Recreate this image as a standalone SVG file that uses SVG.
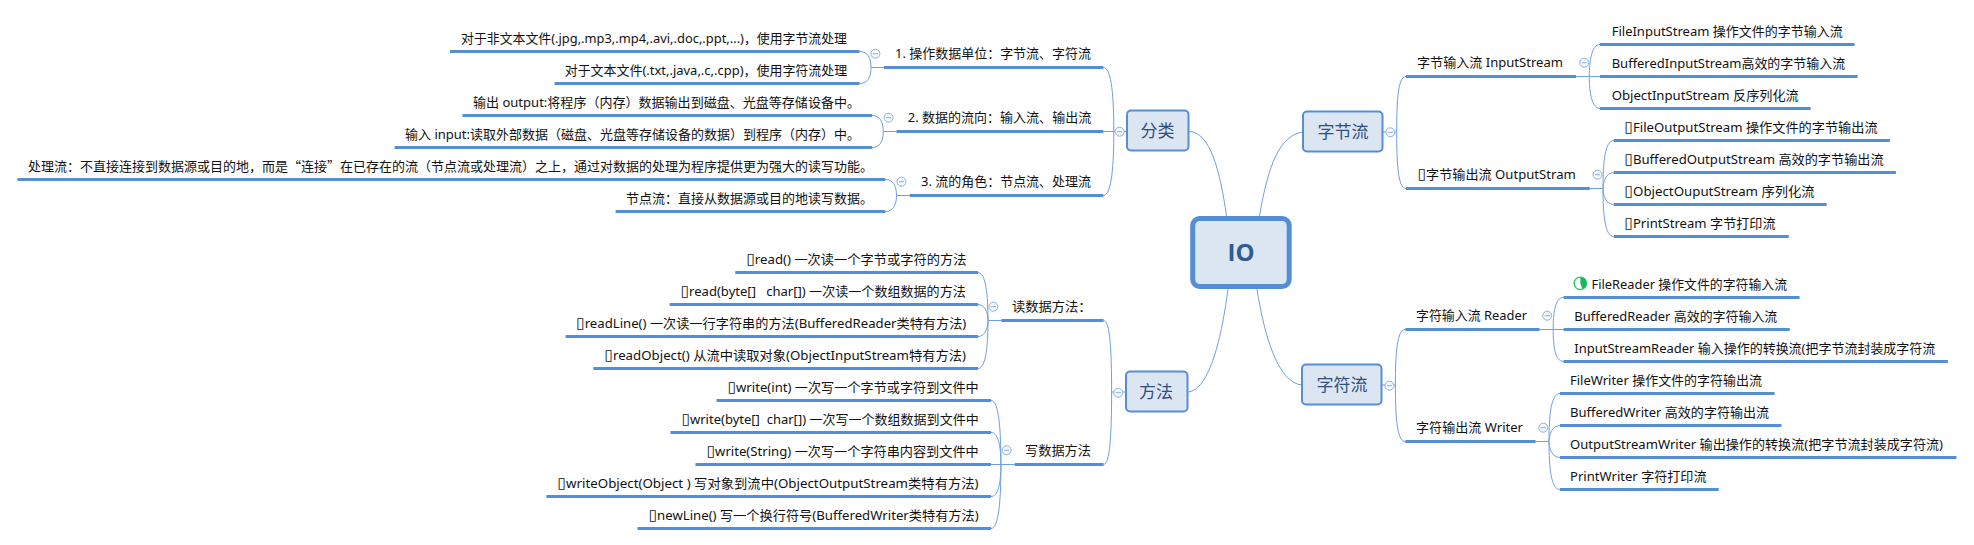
<svg xmlns="http://www.w3.org/2000/svg" width="1974" height="545" viewBox="0 0 1974 545">
<style>
text{font-family:"Noto Sans","Noto Sans CJK SC","DejaVu Sans",sans-serif;font-size:13px;fill:#111}
.b{font-size:15px;font-family:"DejaVu Sans",sans-serif}
.q{font-family:"Noto Sans CJK SC",sans-serif}
.u{stroke:#558ed5;stroke-width:3;fill:none}
.c{stroke:#6f9fdc;stroke-width:1;fill:none}
.box{fill:#dce6f2;stroke:#558ed5;stroke-width:2}
.nt{font-family:"Noto Sans CJK SC","Noto Sans",sans-serif;font-size:17px;fill:#2f4f7f;text-anchor:middle}
.i circle{fill:#f4f7fc;stroke:#8fb0de;stroke-width:1}
.i path{stroke:#8fb0de;stroke-width:1;fill:none}
</style>
<defs>
<g id="tg" class="i"><circle r="4.5"/><path d="M-2.5 0H2.5"/></g>
</defs>
<rect width="1974" height="545" fill="#fff"/>
<g id="connectors">
<path class="c" d="M1226.5 216C1220 170 1210 132 1189 131.5"/>
<path class="c" d="M1259.5 216C1268 165 1280 135 1303 132"/>
<path class="c" d="M1228 289C1222 335 1210 390 1188 392"/>
<path class="c" d="M1257 289C1264 335 1278 383 1302 385"/>
<path class="c" d="M1126 131.5H1113.8M1113.8 131.5C1113.8 100 1112 67.5 1103.4 67.5M1113.8 131.5H1103.4M1113.8 131.5C1113.8 163 1112 195.5 1103.4 195.5"/>
<path class="c" d="M883.7 67.5H871M871 67.5C871 58 868 51.5 859.6 51.5M871 67.5C871 77 868 83.5 859.6 83.5"/>
<path class="c" d="M896.5 131.5H883.3M883.3 131.5C883.3 122 880 115.5 872 115.5M883.3 131.5C883.3 141 880 147.5 872 147.5"/>
<path class="c" d="M909.8 195.5H896.5M896.5 195.5C896.5 186 893 179.5 885.3 179.5M896.5 195.5C896.5 205 893 211.5 885.3 211.5"/>
<path class="c" d="M1125 392H1111.6M1111.6 392C1111.6 350 1110 320.5 1103.6 320.5M1111.6 392C1111.6 434 1110 464.5 1103.6 464.5"/>
<path class="c" d="M1001.3 320.5H988M988 320.5C988 296 986 272.5 978 272.5M988 320.5C988 313 985 304.5 978 304.5M988 320.5C988 328 985 336.5 978 336.5M988 320.5C988 345 986 368.5 978 368.5"/>
<path class="c" d="M1014.7 464.5H991M1000.9 464.5C1000.9 430 999 400.5 991 400.5M1000.9 464.5C1000.9 445 998 432.5 991 432.5M1000.9 464.5C1000.9 484 998 496.5 991 496.5M1000.9 464.5C1000.9 499 999 528.5 991 528.5"/>
<path class="c" d="M1383 132H1396.7M1396.7 132C1396.7 100 1398 76.5 1406 76.5M1396.7 132C1396.7 164 1398 188.5 1406 188.5"/>
<path class="c" d="M1576 76.5H1600M1589.3 76.5C1589.3 60 1592 44.5 1600 44.5M1589.3 76.5C1589.3 93 1592 108.5 1600 108.5"/>
<path class="c" d="M1589.8 188.5H1603M1603 188.5C1603 162 1605 140.5 1613.8 140.5M1603 188.5C1603 182 1606 172.5 1613.8 172.5M1603 188.5C1603 195 1606 204.5 1613.8 204.5M1603 188.5C1603 215 1605 236.5 1613.8 236.5"/>
<path class="c" d="M1382 385H1395.4M1395.4 385C1395.4 353 1397 329.5 1405.3 329.5M1395.4 385C1395.4 417 1397 441.5 1405.3 441.5"/>
<path class="c" d="M1539.5 329.5H1563.5M1553.2 329.5C1553.2 313 1555 297.5 1563.5 297.5M1553.2 329.5C1553.2 346 1555 361.5 1563.5 361.5"/>
<path class="c" d="M1535.6 441.5H1549M1549 441.5C1549 415 1551 393.5 1560 393.5M1549 441.5C1549 435 1552 425.5 1560 425.5M1549 441.5C1549 448 1552 457.5 1560 457.5M1549 441.5C1549 468 1551 489.5 1560 489.5"/>
</g>
<g id="node-io"><rect x="1192.7" y="218.5" width="96.5" height="68" rx="7" fill="#dce6f2" stroke="#558ed5" stroke-width="5"/><text x="1241" y="261" text-anchor="middle" style="font-family:'Open Sans',sans-serif;font-size:24px;font-weight:700;fill:#2f5c94">IO</text></g>
<g id="node-fenlei"><rect class="box" x="1127" y="110.5" width="61.5" height="40" rx="4"/><text class="nt" x="1157.5" y="136.5">分类</text><use href="#tg" x="1119.6" y="131.7"/></g>
<g id="node-fangfa"><rect class="box" x="1126" y="371.5" width="61.5" height="40" rx="4"/><text class="nt" x="1156" y="397.5">方法</text><use href="#tg" x="1118.3" y="392.7"/></g>
<g id="node-zijie"><rect class="box" x="1303" y="111.5" width="79.5" height="40" rx="4"/><text class="nt" x="1343" y="137.5">字节流</text><use href="#tg" x="1390.3" y="132.3"/></g>
<g id="node-zifu"><rect class="box" x="1302" y="364.5" width="79.5" height="40" rx="4"/><text class="nt" x="1342" y="390.5">字符流</text><use href="#tg" x="1389.4" y="385.7"/></g>

<g id="n-op"><path class="u" d="M883.7 67.5H1103.4"/><text x="895" y="58" textLength="196" lengthAdjust="spacingAndGlyphs">1. 操作数据单位&#xFF1A;字节流、字符流</text><use href="#tg" x="875.4" y="53.7"/></g>
<g id="n-nontext"><path class="u" d="M450 51.5H859.6"/><text x="461" y="42.5" textLength="386" lengthAdjust="spacingAndGlyphs">对于非文本文件(.jpg,.mp3,.mp4,.avi,.doc,.ppt,...)&#xFF0C;使用字节流处理</text></g>
<g id="n-text"><path class="u" d="M554.5 83.5H859.6"/><text x="564.7" y="74.5" textLength="282.5" lengthAdjust="spacingAndGlyphs">对于文本文件(.txt,.java,.c,.cpp)&#xFF0C;使用字符流处理</text></g>
<g id="n-dir"><path class="u" d="M896.5 131.5H1103.4"/><text x="907.7" y="122" textLength="183.5" lengthAdjust="spacingAndGlyphs">2. 数据的流向&#xFF1A;输入流、输出流</text><use href="#tg" x="888.6" y="117.7"/></g>
<g id="n-output"><path class="u" d="M462.5 115.5H872"/><text x="473" y="106.5" textLength="387" lengthAdjust="spacingAndGlyphs">输出 output:将程序&#xFF08;内存&#xFF09;数据输出到磁盘、光盘等存储设备中。</text></g>
<g id="n-input"><path class="u" d="M394.6 147.5H872"/><text x="405" y="138.5" textLength="455" lengthAdjust="spacingAndGlyphs">输入 input:读取外部数据&#xFF08;磁盘、光盘等存储设备的数据&#xFF09;到程序&#xFF08;内存&#xFF09;中。</text></g>
<g id="n-role"><path class="u" d="M909.8 195.5H1103.4"/><text x="921" y="186" textLength="170" lengthAdjust="spacingAndGlyphs">3. 流的角色&#xFF1A;节点流、处理流</text><use href="#tg" x="901.5" y="181.7"/></g>
<g id="n-proc"><path class="u" d="M17.4 179.5H885.3"/><text x="28" y="170.5" textLength="845" lengthAdjust="spacingAndGlyphs">处理流&#xFF1A;不直接连接到数据源或目的地&#xFF0C;而是<tspan class="q">&#x201C;</tspan>连接<tspan class="q">&#x201D;</tspan>在已存在的流&#xFF08;节点流或处理流&#xFF09;之上&#xFF0C;通过对数据的处理为程序提供更为强大的读写功能。</text></g>
<g id="n-node"><path class="u" d="M615.6 211.5H885.3"/><text x="626" y="202.5" textLength="247" lengthAdjust="spacingAndGlyphs">节点流&#xFF1A;直接从数据源或目的地读写数据。</text></g>

<g id="n-readm"><path class="u" d="M1001.3 320.5H1103.6"/><text x="1012" y="311" textLength="79.6" lengthAdjust="spacingAndGlyphs">读数据方法&#xFF1A;</text><use href="#tg" x="993.3" y="306.7"/></g>
<g id="n-r1"><path class="u" d="M735.3 272.5H978"/><text x="746.4" y="263.5" textLength="220" lengthAdjust="spacingAndGlyphs"><tspan class="b">▯</tspan>read() 一次读一个字节或字符的方法</text></g>
<g id="n-r2"><path class="u" d="M669.6 304.5H978"/><text x="680.8" y="295.5" textLength="285" lengthAdjust="spacingAndGlyphs" xml:space="preserve"><tspan class="b">▯</tspan>read(byte[]   char[]) 一次读一个数组数据的方法</text></g>
<g id="n-r3"><path class="u" d="M565.6 336.5H978"/><text x="576.3" y="327.5" textLength="390" lengthAdjust="spacingAndGlyphs"><tspan class="b">▯</tspan>readLine() 一次读一行字符串的方法(BufferedReader类特有方法)</text></g>
<g id="n-r4"><path class="u" d="M593.3 368.5H978"/><text x="604.5" y="359.5" textLength="361.5" lengthAdjust="spacingAndGlyphs"><tspan class="b">▯</tspan>readObject() 从流中读取对象(ObjectInputStream特有方法)</text></g>
<g id="n-writem"><path class="u" d="M1014.7 464.5H1103.6"/><text x="1025" y="455" textLength="66" lengthAdjust="spacingAndGlyphs">写数据方法</text><use href="#tg" x="1006.7" y="450.3"/></g>
<g id="n-w1"><path class="u" d="M716.5 400.5H991"/><text x="727.7" y="391.5" textLength="251" lengthAdjust="spacingAndGlyphs"><tspan class="b">▯</tspan>write(int) 一次写一个字节或字符到文件中</text></g>
<g id="n-w2"><path class="u" d="M670.5 432.5H991"/><text x="681.7" y="423.5" textLength="297" lengthAdjust="spacingAndGlyphs" xml:space="preserve"><tspan class="b">▯</tspan>write(byte[]  char[]) 一次写一个数组数据到文件中</text></g>
<g id="n-w3"><path class="u" d="M695.5 464.5H991"/><text x="706.7" y="455.5" textLength="272" lengthAdjust="spacingAndGlyphs"><tspan class="b">▯</tspan>write(String) 一次写一个字符串内容到文件中</text></g>
<g id="n-w4"><path class="u" d="M546.4 496.5H991"/><text x="557.6" y="487.5" textLength="421" lengthAdjust="spacingAndGlyphs"><tspan class="b">▯</tspan>writeObject(Object ) 写对象到流中(ObjectOutputStream类特有方法)</text></g>
<g id="n-w5"><path class="u" d="M637.5 528.5H991"/><text x="648.7" y="519.5" textLength="330" lengthAdjust="spacingAndGlyphs"><tspan class="b">▯</tspan>newLine() 写一个换行符号(BufferedWriter类特有方法)</text></g>

<g id="n-is"><path class="u" d="M1406 76.5H1576"/><text x="1417" y="67" textLength="146" lengthAdjust="spacingAndGlyphs">字节输入流 InputStream</text><use href="#tg" x="1584.2" y="62.7"/></g>
<g id="n-is1"><path class="u" d="M1600 44.5H1854.6"/><text x="1611.7" y="35.5" textLength="231" lengthAdjust="spacingAndGlyphs">FileInputStream 操作文件的字节输入流</text></g>
<g id="n-is2"><path class="u" d="M1600 76.5H1857.6"/><text x="1611.7" y="67.5" textLength="233.5" lengthAdjust="spacingAndGlyphs">BufferedInputStream高效的字节输入流</text></g>
<g id="n-is3"><path class="u" d="M1600 108.5H1810.7"/><text x="1611.7" y="99.5" textLength="187" lengthAdjust="spacingAndGlyphs">ObjectInputStream 反序列化流</text></g>
<g id="n-os"><path class="u" d="M1406 188.5H1589.8"/><text x="1417.8" y="179" textLength="158" lengthAdjust="spacingAndGlyphs"><tspan class="b">▯</tspan>字节输出流 OutputStram</text><use href="#tg" x="1597.5" y="174.7"/></g>
<g id="n-os1"><path class="u" d="M1613.8 140.5H1889.9"/><text x="1624.6" y="131.5" textLength="253" lengthAdjust="spacingAndGlyphs"><tspan class="b">▯</tspan>FileOutputStream 操作文件的字节输出流</text></g>
<g id="n-os2"><path class="u" d="M1613.8 172.5H1895.9"/><text x="1624.6" y="163.5" textLength="259" lengthAdjust="spacingAndGlyphs"><tspan class="b">▯</tspan>BufferedOutputStream 高效的字节输出流</text></g>
<g id="n-os3"><path class="u" d="M1613.8 204.5H1826.7"/><text x="1624.6" y="195.5" textLength="190" lengthAdjust="spacingAndGlyphs"><tspan class="b">▯</tspan>ObjectOuputStream 序列化流</text></g>
<g id="n-os4"><path class="u" d="M1613.8 236.5H1788.8"/><text x="1624.6" y="227.5" textLength="151" lengthAdjust="spacingAndGlyphs"><tspan class="b">▯</tspan>PrintStream 字节打印流</text></g>

<g id="n-rd"><path class="u" d="M1405.3 329.5H1539.5"/><text x="1416" y="320" textLength="111" lengthAdjust="spacingAndGlyphs">字符输入流 Reader</text><use href="#tg" x="1547.2" y="315.7"/></g>
<g id="n-rd1"><path class="u" d="M1563.5 297.5H1799.6"/><circle cx="1580.3" cy="283.3" r="6.2" fill="#fff" stroke="#2ecc71" stroke-width="1.4"/><path d="M1580.3 283.3V277.1A6.2 6.2 0 0 1 1582.4 289.1Z" fill="#1fb45f"/><text x="1591.5" y="288.5" textLength="195.5" lengthAdjust="spacingAndGlyphs">FileReader 操作文件的字符输入流</text></g>
<g id="n-rd2"><path class="u" d="M1563.5 329.5H1789.7"/><text x="1574.3" y="320.5" textLength="203" lengthAdjust="spacingAndGlyphs">BufferedReader 高效的字符输入流</text></g>
<g id="n-rd3"><path class="u" d="M1563.5 361.5H1947.9"/><text x="1574.3" y="352.5" textLength="361" lengthAdjust="spacingAndGlyphs">InputStreamReader 输入操作的转换流(把字节流封装成字符流</text></g>
<g id="n-wr"><path class="u" d="M1405.3 441.5H1535.6"/><text x="1416" y="432" textLength="107" lengthAdjust="spacingAndGlyphs">字符输出流 Writer</text><use href="#tg" x="1543.3" y="427.7"/></g>
<g id="n-wr1"><path class="u" d="M1560 393.5H1774.6"/><text x="1570" y="384.5" textLength="192" lengthAdjust="spacingAndGlyphs">FileWriter 操作文件的字符输出流</text></g>
<g id="n-wr2"><path class="u" d="M1560 425.5H1781.5"/><text x="1570" y="416.5" textLength="199" lengthAdjust="spacingAndGlyphs">BufferedWriter 高效的字符输出流</text></g>
<g id="n-wr3"><path class="u" d="M1560 457.5H1956.5"/><text x="1570" y="448.5" textLength="373" lengthAdjust="spacingAndGlyphs">OutputStreamWriter 输出操作的转换流(把字节流封装成字符流)</text></g>
<g id="n-wr4"><path class="u" d="M1560 489.5H1718.7"/><text x="1570" y="480.5" textLength="136.5" lengthAdjust="spacingAndGlyphs">PrintWriter 字符打印流</text></g>
</svg>
